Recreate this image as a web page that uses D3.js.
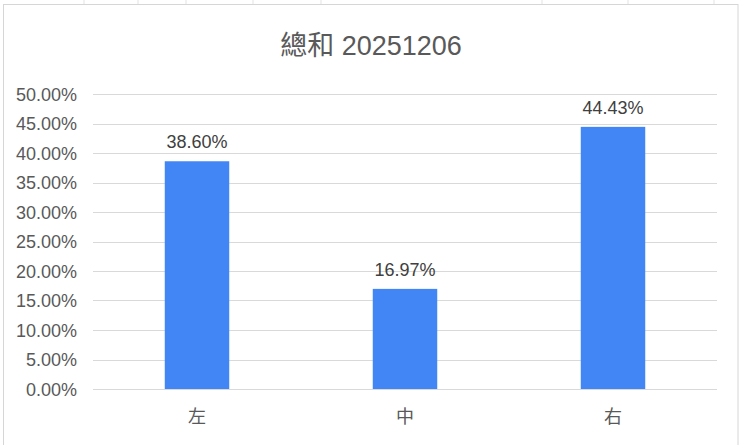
<!DOCTYPE html>
<html><head><meta charset="utf-8">
<script src="https://cdn.jsdelivr.net/npm/d3@7"></script>
<style>
html,body{margin:0;padding:0;background:#fff;}
svg{display:block;font-family:"Liberation Sans",Arial,"Noto Sans CJK TC",sans-serif;}
</style></head>
<body>
<svg id="c" width="740" height="445"></svg>
<script>
const title = "總和 20251206";
const categories = ["左", "中", "右"];
const values = [38.60, 16.97, 44.43];
const yTicks = [0, 5, 10, 15, 20, 25, 30, 35, 40, 45, 50];

const svg = d3.select("#c");
const W = 740, H = 445;
const m = {left: 93, right: 23, top: 94, bottom: 56};

// spreadsheet background cells
const bgX = [84, 138, 186, 253, 321, 542, 628, 714];
svg.append("g").selectAll("line").data(bgX).join("line")
  .attr("x1", d => d).attr("x2", d => d).attr("y1", 0).attr("y2", 4)
  .attr("stroke", "#e3e3e3").attr("stroke-width", 1);

// chart frame
svg.append("rect").attr("x", 3.5).attr("y", 4.5).attr("width", 734.5).attr("height", 450)
  .attr("fill", "#fff").attr("stroke", "#d6d6d6").attr("stroke-width", 1);

const x = d3.scaleBand().domain(categories).range([m.left, W - m.right]).paddingInner(0.69).paddingOuter(0.345);
const y = d3.scaleLinear().domain([0, 50]).range([H - m.bottom, m.top]);

// gridlines
svg.append("g").selectAll("line").data(yTicks).join("line")
  .attr("x1", m.left).attr("x2", W - m.right)
  .attr("y1", d => Math.round(y(d)) + 0.5).attr("y2", d => Math.round(y(d)) + 0.5)
  .attr("stroke", "#d9d9d9").attr("stroke-width", 1.2);

// y axis labels
const yAxis = d3.axisLeft(y).tickValues(yTicks).tickSize(0).tickPadding(0)
  .tickFormat(d => d.toFixed(2) + "%");
const ya = svg.append("g").attr("transform", `translate(${m.left - 16},0)`).call(yAxis);
ya.select(".domain").remove();
ya.selectAll("text").attr("font-size", 18).attr("fill", "#595959")
  .attr("font-family", "'Liberation Sans',Arial,sans-serif").attr("dy", "0.35em");

// bars
svg.append("g").selectAll("rect").data(values).join("rect")
  .attr("x", (d, i) => x(categories[i]))
  .attr("width", x.bandwidth())
  .attr("y", d => y(d))
  .attr("height", d => y(0) - y(d))
  .attr("fill", "#4285f4");

// data labels
svg.append("g").selectAll("text").data(values).join("text")
  .attr("x", (d, i) => x(categories[i]) + x.bandwidth() / 2)
  .attr("y", d => y(d) - 13)
  .attr("text-anchor", "middle")
  .attr("font-size", 18).attr("fill", "#404040")
  .text(d => d.toFixed(2) + "%");

// x axis labels
const xAxis = d3.axisBottom(x).tickSize(0).tickPadding(0);
const xa = svg.append("g").attr("transform", `translate(0,${y(0) + 29})`).call(xAxis);
xa.select(".domain").remove();
xa.selectAll("text").attr("font-size", 18).attr("fill", "#595959")
  .attr("font-family", "'Noto Sans CJK TC',sans-serif").attr("dy", "0.3em");

// title
svg.append("text").attr("x", 371).attr("y", 55).attr("text-anchor", "middle")
  .attr("font-size", 27).attr("fill", "#595959").text(title);
</script>
</body></html>
